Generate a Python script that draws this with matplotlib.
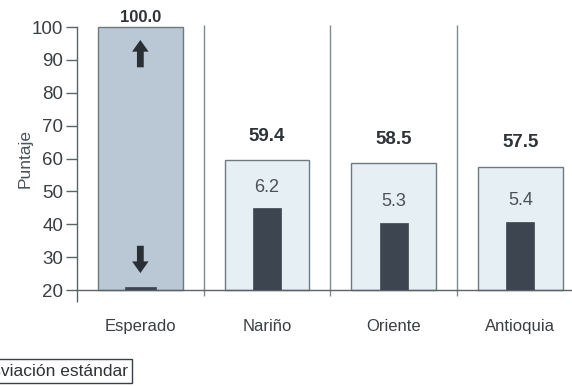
import matplotlib.pyplot as plt

plt.rcParams['font.family'] = ['Liberation Sans', 'DejaVu Sans']

# data
categories = ['Esperado', 'Nariño', 'Oriente', 'Antioquia']
puntaje = [100.0, 59.4, 58.5, 57.5]
desviacion = [None, 6.2, 5.3, 5.4]
inner_top = [20.8, 44.8, 40.4, 40.7]
yticks = [20, 30, 40, 50, 60, 70, 80, 90, 100]

fig = plt.figure(figsize=(5.72, 3.86), dpi=100)
ax = fig.add_axes([0.1346, 0.2487, 0.886, 0.6813])

x = range(len(categories))
outer_colors = ['#b9c8d4', '#e6eff3', '#e6eff3', '#e6eff3']
ax.bar(x, [p - 20 for p in puntaje], bottom=20, width=0.67,
       color=outer_colors, edgecolor='#6f7a80', linewidth=1.0, clip_on=False, zorder=2)
inner_w = [0.24, 0.22, 0.22, 0.22]
ax.bar(x, [t - 20 for t in inner_top], bottom=20, width=inner_w,
       color='#3d4550', edgecolor='#3d4550', linewidth=0.5, zorder=3)

# value labels (the 100.0 sits right on the bar top)
for i, p in enumerate(puntaje):
    off = 0.6 if i == 0 else 4.8
    fs = 12 if i == 0 else 13.5
    ax.text(i, p + off, f'{p:.1f}', ha='center', va='bottom', fontsize=fs,
            fontweight='bold', color='#2e3338', zorder=4, clip_on=False)
for i, d in enumerate(desviacion):
    if d is not None:
        ax.text(i, inner_top[i] + 3.8, f'{d:.1f}', ha='center', va='bottom',
                fontsize=13, color='#4a5258', zorder=4)

# arrows in the expected bar
arr = dict(arrowstyle='simple,head_length=0.6,head_width=0.85,tail_width=0.35',
           color='#2a2f35', lw=0, mutation_scale=14)
ax.annotate('', xy=(0, 96.9), xytext=(0, 86.9), arrowprops=arr, zorder=5)
ax.annotate('', xy=(0, 24.3), xytext=(0, 34.3), arrowprops=arr, zorder=5)

# category separators
ax.vlines([0.5, 1.5, 2.5], 18.2, 100.6, color='#7d8c8e', linewidth=1.0, clip_on=False)
ax.vlines([-0.5], 16.5, 20, color='#5a6466', linewidth=1.0, clip_on=False)

ax.set_xlim(-0.5, 3.5)
ax.set_ylim(20, 100)
ax.set_yticks(yticks)
ax.set_yticklabels([str(t) for t in yticks], fontsize=13.5, color='#3a3f44')
ax.set_xticks(list(x))
ax.set_xticklabels(categories, fontsize=12, color='#3a3f44')
ax.tick_params(axis='x', length=0, pad=21)
ax.tick_params(axis='y', length=8, width=1.0, color='#5a6466', pad=2)
ax.set_ylabel('Puntaje', fontsize=12.5, color='#4a5258', labelpad=-1)

for s in ['top', 'right']:
    ax.spines[s].set_visible(False)
for s in ['left', 'bottom']:
    ax.spines[s].set_color('#5a6466')
    ax.spines[s].set_linewidth(1.0)

# legend box cut by the left edge, as in the scan
fig.text(128 / 572, 1 - 371 / 386, 'Desviación estándar', ha='right', va='center',
         fontsize=12.5, color='#2e3338',
         bbox=dict(boxstyle='square,pad=0.25', facecolor='white', edgecolor='#3a3f44', linewidth=1.0))

fig.savefig('out.png', dpi=100)
